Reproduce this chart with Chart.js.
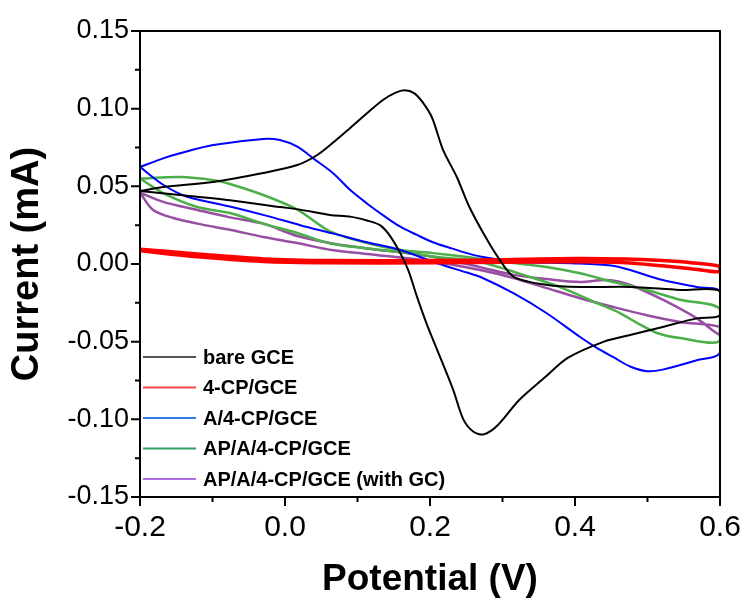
<!DOCTYPE html>
<html>
<head>
<meta charset="utf-8">
<script src="https://cdn.jsdelivr.net/npm/chart.js@4.4.1/dist/chart.umd.min.js"></script>
<style>
  html, body { margin: 0; padding: 0; background: #fff; }
  #wrap { width: 744px; height: 598px; }
</style>
</head>
<body>
<div id="wrap"><canvas id="cvChart" width="744" height="598"></canvas></div>
<script>
// series names (legend order)
const seriesNames = ['bare GCE', '4-CP/GCE', 'A/4-CP/GCE', 'AP/A/4-CP/GCE', 'AP/A/4-CP/GCE (with GC)'];

// each curve is one CV loop: -0.2 -> 0.6 -> -0.2 (potential V, current mA)
const bareV = [-0.2, -0.168, -0.099, -0.03, 0.017, 0.044, 0.066, 0.09, 0.113, 0.135, 0.152, 0.165, 0.178, 0.19, 0.203, 0.218, 0.237, 0.254, 0.277, 0.295, 0.316, 0.362, 0.407, 0.476, 0.545, 0.6,
  0.6, 0.568, 0.521, 0.476, 0.44, 0.39, 0.359, 0.323, 0.293, 0.274, 0.26, 0.246, 0.232, 0.214, 0.195, 0.182, 0.17, 0.159, 0.145, 0.131, 0.113, 0.09, 0.062, 0.021, -0.007, -0.076, -0.145, -0.2];
const bareI = [0.047, 0.0496, 0.0528, 0.0586, 0.0637, 0.070, 0.078, 0.0876, 0.097, 0.1056, 0.1102, 0.1118, 0.110, 0.104, 0.094, 0.0734, 0.056, 0.037, 0.017, 0.0035, -0.0084, -0.0135, -0.0148, -0.0148, -0.0167, -0.0174,
  -0.033, -0.035, -0.0405, -0.0457, -0.050, -0.0605, -0.0728, -0.0876, -0.104, -0.1097, -0.108, -0.100, -0.081, -0.060, -0.038, -0.021, -0.004, 0.007, 0.018, 0.025, 0.028, 0.0305, 0.0316, 0.035, 0.0367, 0.041, 0.0444, 0.047];

const cpV = [-0.2, -0.121, -0.03, 0.062, 0.2, 0.3, 0.4, 0.47, 0.52, 0.56, 0.6,
  0.6, 0.56, 0.52, 0.47, 0.4, 0.3, 0.2, 0.062, -0.03, -0.121, -0.2];
const cpI = [0.0095, 0.0065, 0.0033, 0.0022, 0.0022, 0.0028, 0.0035, 0.0032, 0.0022, 0.0008, -0.0017,
  -0.005, -0.003, -0.0012, 0.0008, 0.0014, 0.0012, 0.0008, 0.0008, 0.0016, 0.0046, 0.0085];

const aV = [-0.2, -0.168, -0.145, -0.099, -0.03, -0.007, 0.017, 0.039, 0.066, 0.09, 0.113, 0.135, 0.159, 0.182, 0.204, 0.228, 0.251, 0.273, 0.32, 0.4, 0.45, 0.476, 0.521, 0.568, 0.6,
  0.6, 0.568, 0.521, 0.499, 0.476, 0.453, 0.43, 0.407, 0.361, 0.315, 0.269, 0.251, 0.21, 0.159, 0.113, 0.066, 0.021, -0.025, -0.076, -0.136, -0.168, -0.2];
const aI = [0.0625, 0.068, 0.0713, 0.0766, 0.0805, 0.0798, 0.0755, 0.068, 0.0586, 0.0476, 0.039, 0.0315, 0.024, 0.0187, 0.014, 0.0103, 0.007, 0.0045, 0.0015, 0.0004, -0.001, -0.0039, -0.0103, -0.0148, -0.018,
  -0.057, -0.062, -0.068, -0.069, -0.066, -0.060, -0.054, -0.047, -0.0317, -0.0188, -0.0082, -0.0055, 0.0005, 0.009, 0.014, 0.0197, 0.025, 0.031, 0.037, 0.0435, 0.051, 0.0625];

const apV = [-0.2, -0.145, -0.099, -0.076, -0.03, 0.017, 0.062, 0.113, 0.159, 0.204, 0.251, 0.315, 0.361, 0.407, 0.453, 0.499, 0.545, 0.6,
  0.6, 0.545, 0.513, 0.486, 0.462, 0.43, 0.383, 0.338, 0.269, 0.2, 0.159, 0.064, 0.017, -0.03, -0.076, -0.121, -0.168, -0.2];
const apI = [0.055, 0.056, 0.054, 0.0515, 0.0444, 0.035, 0.021, 0.0135, 0.009, 0.007, 0.0045, 0.0006, -0.0019, -0.006, -0.0116, -0.0167, -0.023, -0.029,
  -0.0496, -0.0477, -0.0444, -0.038, -0.0316, -0.0251, -0.0155, -0.0084, 0.0013, 0.005, 0.0077, 0.013, 0.020, 0.026, 0.0328, 0.0367, 0.0457, 0.055];

const gcV = [-0.2, -0.168, -0.121, -0.076, -0.03, 0.017, 0.062, 0.113, 0.2, 0.269, 0.315, 0.361, 0.407, 0.444, 0.476, 0.521, 0.568, 0.6,
  0.6, 0.545, 0.499, 0.453, 0.407, 0.361, 0.315, 0.269, 0.2, 0.113, 0.064, 0.017, -0.03, -0.076, -0.121, -0.154, -0.182, -0.2];
const gcI = [0.046, 0.040, 0.0348, 0.030, 0.026, 0.018, 0.0135, 0.010, 0.005, -0.002, -0.007, -0.0097, -0.0116, -0.0103, -0.0135, -0.023, -0.035, -0.0457,
  -0.0405, -0.0373, -0.033, -0.0277, -0.022, -0.0155, -0.009, -0.0039, 0.002, 0.0065, 0.009, 0.0135, 0.0174, 0.022, 0.026, 0.0296, 0.0348, 0.046];

// axis ticks
const xMajorTicks = [-0.2, 0.0, 0.2, 0.4, 0.6];
const xMinorTicks = [-0.1, 0.1, 0.3, 0.5];
const yMajorTicks = [-0.15, -0.10, -0.05, 0.00, 0.05, 0.10, 0.15];
const yMinorTicks = [-0.125, -0.075, -0.025, 0.025, 0.075, 0.125];

const lineColors = ['#000000', '#ff0000', '#0000ff', '#4daf4a', '#984ea3'];
const legendColors = ['#555555', '#f04848', '#2f7fe0', '#30a060', '#ad6fe0'];
const lineWidths = [2, 3.5, 2, 2.5, 2.5];

const FONT = '"Liberation Sans", Arial, sans-serif';

const toPoints = (vs, is) => vs.map((v, i) => ({ x: v, y: is[i] }));
const curves = [[bareV, bareI], [cpV, cpI], [aV, aI], [apV, apI], [gcV, gcI]];

const frameTicks = {
  id: 'frameTicks',
  afterDraw(chart) {
    const { ctx, chartArea: a, scales: { x, y } } = chart;
    ctx.save();
    ctx.strokeStyle = '#000';
    ctx.lineWidth = 2;
    ctx.beginPath();
    xMajorTicks.forEach((v) => { const p = x.getPixelForValue(v); ctx.moveTo(p, a.bottom); ctx.lineTo(p, a.bottom + 9); });
    xMinorTicks.forEach((v) => { const p = x.getPixelForValue(v); ctx.moveTo(p, a.bottom); ctx.lineTo(p, a.bottom + 5); });
    yMajorTicks.forEach((v) => { const p = y.getPixelForValue(v); ctx.moveTo(a.left, p); ctx.lineTo(a.left - 9, p); });
    yMinorTicks.forEach((v) => { const p = y.getPixelForValue(v); ctx.moveTo(a.left, p); ctx.lineTo(a.left - 5, p); });
    ctx.stroke();
    ctx.strokeRect(a.left, a.top, a.right - a.left, a.bottom - a.top);
    ctx.restore();
  },
};

// legend sits inside the plot, bottom left
const insideLegend = {
  id: 'insideLegend',
  afterDraw(chart) {
    const { ctx, chartArea: a } = chart;
    ctx.save();
    ctx.font = `bold 20px ${FONT}`;
    ctx.textBaseline = 'middle';
    ctx.textAlign = 'left';
    chart.data.datasets.forEach((ds, i) => {
      const yy = a.bottom - 140 + i * 30.5;
      ctx.strokeStyle = legendColors[i];
      ctx.lineWidth = 2;
      ctx.beginPath();
      ctx.moveTo(a.left + 3, yy);
      ctx.lineTo(a.left + 56, yy);
      ctx.stroke();
      ctx.fillStyle = '#000';
      ctx.fillText(ds.label, a.left + 63, yy + 1);
    });
    ctx.restore();
  },
};

new Chart(document.getElementById('cvChart'), {
  type: 'scatter',
  data: {
    datasets: curves.map(([vs, is], i) => ({
      label: seriesNames[i],
      data: toPoints(vs, is),
      showLine: true,
      borderColor: lineColors[i],
      backgroundColor: lineColors[i],
      borderWidth: lineWidths[i],
      pointRadius: 0,
      tension: 0.3,
    })),
  },
  options: {
    responsive: false,
    animation: false,
    layout: { padding: { left: 0, right: 24, top: 31, bottom: 0 } },
    plugins: { legend: { display: false }, tooltip: { enabled: false } },
    scales: {
      x: {
        type: 'linear',
        min: -0.2,
        max: 0.6,
        afterBuildTicks: (s) => { s.ticks = xMajorTicks.map((v) => ({ value: v })); },
        afterFit: (s) => { s.height = 101; s.paddingLeft = 0; s.paddingRight = 0; },
        grid: { display: false, drawTicks: false },
        border: { display: false },
        ticks: {
          color: '#000',
          padding: 13,
          font: { family: FONT, size: 30 },
          callback: (v) => Number(v).toFixed(1),
        },
        title: {
          display: true,
          text: 'Potential (V)',
          color: '#000',
          font: { family: FONT, size: 37, weight: 'bold', lineHeight: 1 },
          padding: 0,
        },
      },
      y: {
        type: 'linear',
        min: -0.15,
        max: 0.15,
        afterBuildTicks: (s) => { s.ticks = yMajorTicks.map((v) => ({ value: v })); },
        afterFit: (s) => { s.width = 140; s.paddingTop = 0; s.paddingBottom = 0; },
        grid: { display: false, drawTicks: false },
        border: { display: false },
        ticks: {
          color: '#000',
          padding: 11,
          font: { family: FONT, size: 27 },
          callback: (v) => Number(v).toFixed(2),
        },
        title: {
          display: true,
          text: 'Current (mA)',
          color: '#000',
          font: { family: FONT, size: 38, weight: 'bold', lineHeight: 1 },
          padding: { top: 9, bottom: 0 },
        },
      },
    },
  },
  plugins: [frameTicks, insideLegend],
});
</script>
</body>
</html>
